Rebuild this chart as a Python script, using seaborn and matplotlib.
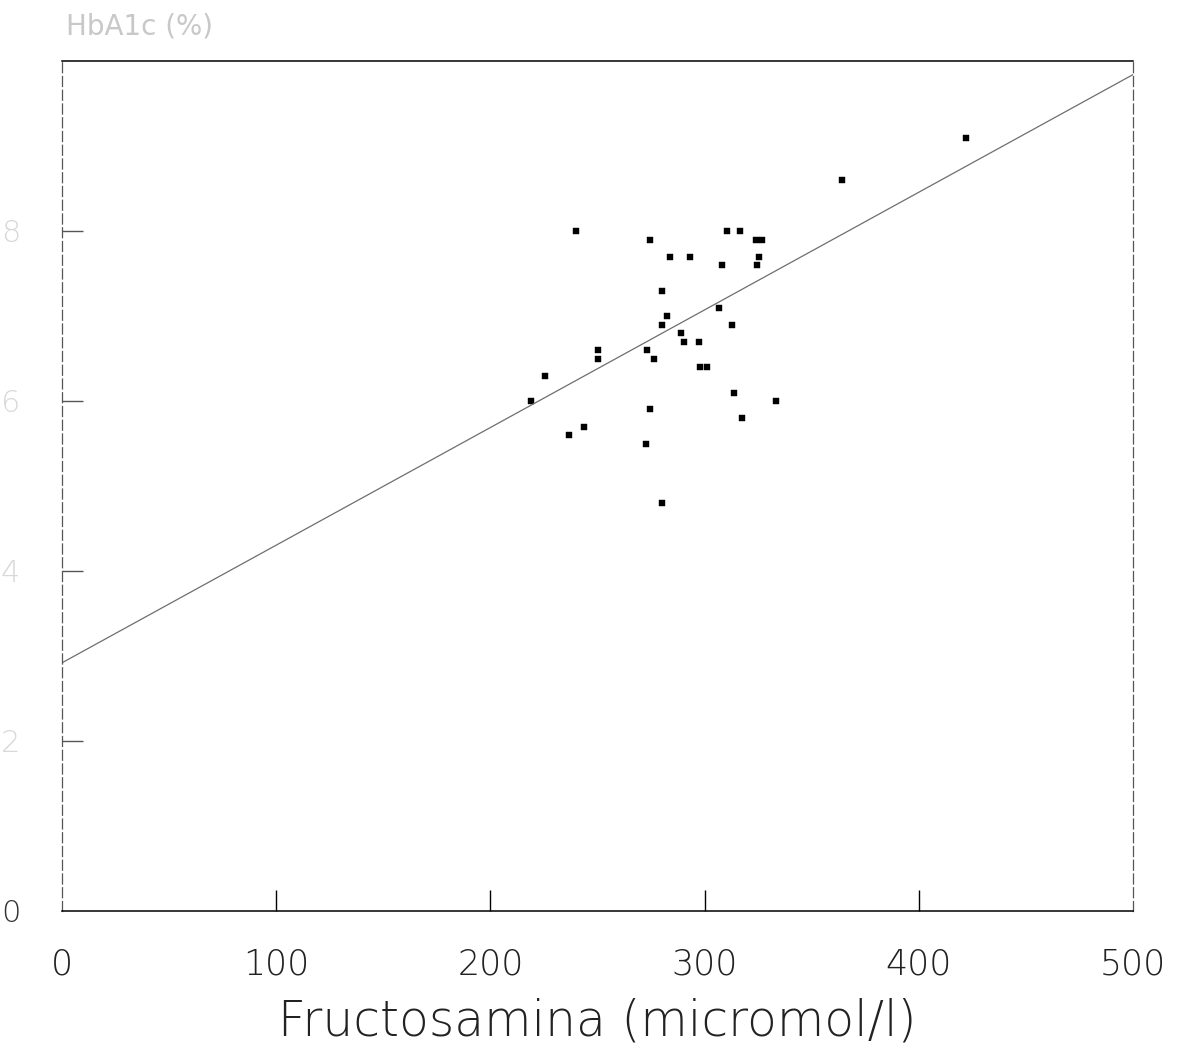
import numpy as np
import pandas as pd
import matplotlib
matplotlib.use("Agg")
import matplotlib.pyplot as plt
import seaborn as sns

# Data
fructosamina = [422, 364, 240, 274.5, 310.5, 316.5, 324, 327,
                284, 293, 308, 325.5, 324.5, 280, 306.5, 282.5,
                280, 313, 289, 290.5, 297.5, 273, 250, 250,
                276.5, 298, 301, 225.5, 313.5, 219, 333.5, 274.5,
                317.5, 243.5, 236.5, 272.5, 280]
hba1c = [9.1, 8.6, 8.0, 7.9, 8.0, 8.0, 7.9, 7.9,
         7.7, 7.7, 7.6, 7.7, 7.6, 7.3, 7.1, 7.0,
         6.9, 6.9, 6.8, 6.7, 6.7, 6.6, 6.6, 6.5,
         6.5, 6.4, 6.4, 6.3, 6.1, 6.0, 6.0, 5.9,
         5.8, 5.7, 5.6, 5.5, 4.8]

fit_x = [0, 500]
fit_intercept = 2.92
fit_slope = 0.01384

x_ticks = [0, 100, 200, 300, 400, 500]
y_ticks = [0, 2, 4, 6, 8]
x_label = "Fructosamina (micromol/l)"
y_title = "HbA1c (%)"

sns.set_theme(style="white")
plt.rcParams['font.family'] = ['DejaVu Sans']

df = pd.DataFrame({"x": fructosamina, "y": hba1c})
fit_df = pd.DataFrame({"x": fit_x,
                       "y": [fit_intercept + fit_slope * v for v in fit_x]})

fig = plt.figure(figsize=(11.85, 10.54), dpi=100)
ax = fig.add_axes([62/1185, 1 - 911/1054, (1133-62)/1185, (911-61)/1054])

sns.lineplot(data=fit_df, x="x", y="y", ax=ax, color="#6e6e6e", lw=0.9)
sns.scatterplot(data=df, x="x", y="y", ax=ax, marker="s", s=18,
                color="black", edgecolor="black", linewidth=0.3)

ax.set_xlim(0, 500)
ax.set_ylim(0, 10)
ax.set_xticks(x_ticks)
ax.set_xticklabels([str(t) for t in x_ticks], fontsize=25,
                   fontweight="light", color="#222222")
ax.set_yticks(y_ticks)
ylabels = ax.set_yticklabels([str(t) for t in y_ticks], fontsize=22,
                             fontweight="light")
for i, lab in enumerate(ylabels):
    lab.set_color("#333333" if i == 0 else "#d8d8d8")

ax.tick_params(axis="x", direction="in", length=15, width=1.0,
               pad=26, color="black", bottom=True)
ax.tick_params(axis="y", direction="in", length=15, width=1.0,
               pad=30, color="#555555", left=True)
xt = ax.xaxis.get_major_ticks()
xt[0].tick1line.set_visible(False)
xt[-1].tick1line.set_visible(False)
ax.yaxis.get_major_ticks()[0].tick1line.set_visible(False)

ax.set_xlabel(x_label, fontsize=35, fontweight="light", labelpad=12,
              color="#222222")
ax.set_ylabel("")

for side in ["top", "bottom"]:
    ax.spines[side].set_color("black")
    ax.spines[side].set_linewidth(1.1)
for side in ["left", "right"]:
    ax.spines[side].set_color("#555555")
    ax.spines[side].set_linewidth(0.9)
    ax.spines[side].set_linestyle((0, (8, 3)))

fig.text(66/1185, 1 - 27/1054, y_title, fontsize=20, color="#c8c8c8",
         ha="left", va="center")

fig.savefig("out.png", dpi=100, facecolor="white")
